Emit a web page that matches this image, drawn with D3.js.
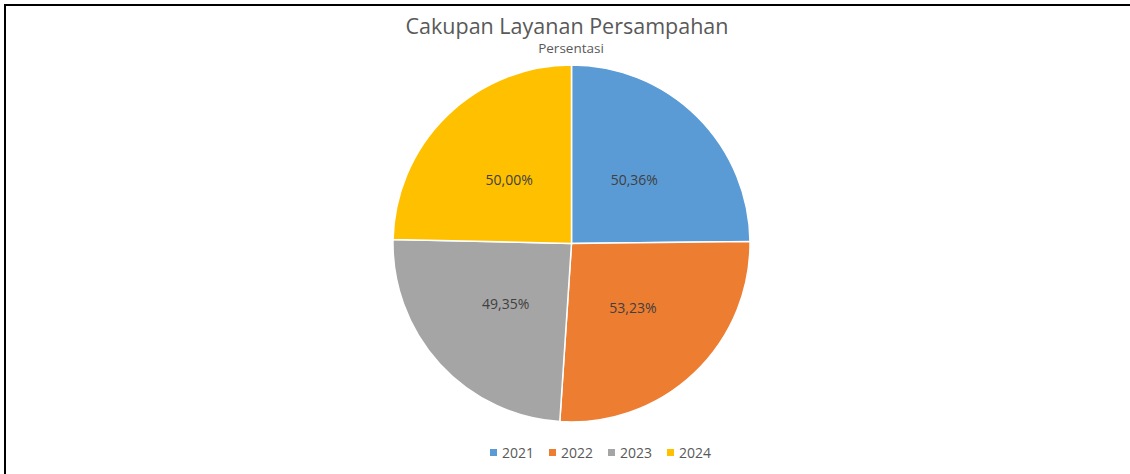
<!DOCTYPE html>
<meta charset="utf-8">
<style>
body { margin: 0; background: #fff; }
text { font-family: "Open Sans", "Noto Sans", sans-serif; }
</style>
<body>
<svg width="1130" height="474"></svg>
<script src="https://d3js.org/d3.v7.min.js"></script>
<script>

var years = ["2021", "2022", "2023", "2024"];
var values = [50.36, 53.23, 49.35, 50.00];
var labels = ["50,36%", "53,23%", "49,35%", "50,00%"];
var colors = ["#5B9BD5", "#ED7D31", "#A5A5A5", "#FFC000"];

var svg = d3.select("svg"),
    width = +svg.attr("width"),
    height = +svg.attr("height");

// frame (only top and left edges are visible in the crop)
svg.append("line").attr("x1", 4).attr("y1", 5).attr("x2", width).attr("y2", 5)
    .attr("stroke", "#000").attr("stroke-width", 2);
svg.append("line").attr("x1", 5).attr("y1", 5).attr("x2", 5).attr("y2", height)
    .attr("stroke", "#000").attr("stroke-width", 2);

svg.append("text")
    .attr("x", 567).attr("y", 34)
    .attr("text-anchor", "middle")
    .attr("fill", "#595959")
    .style("font-size", "21.5px")
    .text("Cakupan Layanan Persampahan");

svg.append("text")
    .attr("x", 571).attr("y", 53)
    .attr("text-anchor", "middle")
    .attr("fill", "#595959")
    .style("font-size", "13.5px")
    .text("Persentasi");

var cx = 571.5, cy = 243.5, r = 178.5;

var color = d3.scaleOrdinal().domain(years).range(colors);

var pie = d3.pie().sort(null).value(function(d, i) { return values[i]; });
var arc = d3.arc().innerRadius(0).outerRadius(r);

var g = svg.append("g").attr("transform", "translate(" + cx + "," + cy + ")");

g.selectAll("path")
    .data(pie(years))
    .enter().append("path")
      .attr("d", arc)
      .attr("fill", function(d) { return color(d.data); })
      .attr("stroke", "#fff")
      .attr("stroke-width", 1.5);

g.selectAll("text.lbl")
    .data(pie(years))
    .enter().append("text")
      .attr("class", "lbl")
      .attr("transform", function(d) { return "translate(" + arc.centroid(d) + ")"; })
      .attr("dy", "0.35em")
      .attr("text-anchor", "middle")
      .attr("fill", "#404040")
      .style("font-size", "14px")
      .text(function(d, i) { return labels[i]; });

// legend
var legX = d3.scalePoint().domain(years).range([490, 667]);
var leg = svg.append("g").selectAll("g")
    .data(years)
    .enter().append("g")
      .attr("transform", function(d) { return "translate(" + legX(d) + ",449)"; });

leg.append("rect")
    .attr("width", 7).attr("height", 7)
    .attr("fill", function(d) { return color(d); });

leg.append("text")
    .attr("x", 12).attr("y", 8.5)
    .attr("fill", "#595959")
    .style("font-size", "14px")
    .text(function(d) { return d; });

</script>
</body>
